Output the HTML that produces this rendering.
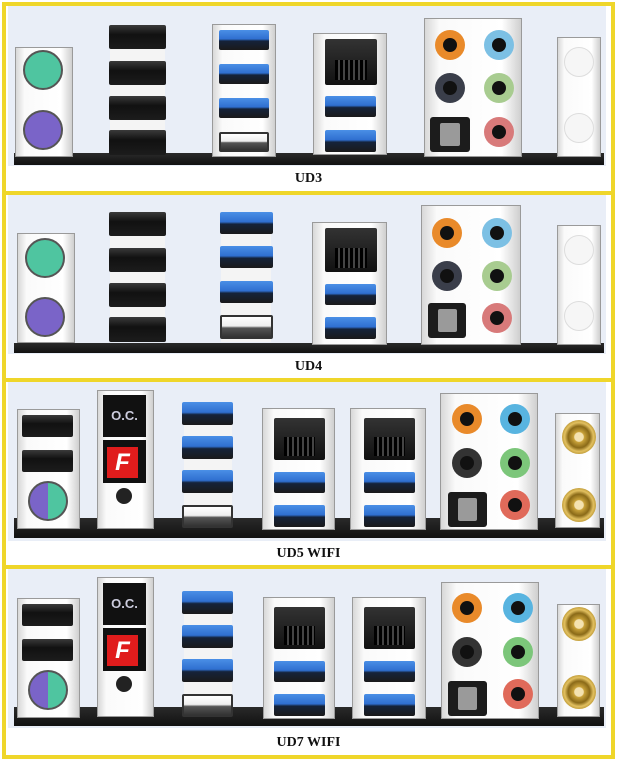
<!DOCTYPE html>
<html><head><meta charset="utf-8">
<style>
*{margin:0;padding:0;box-sizing:border-box}
body{width:617px;height:761px;background:#fff;position:relative;overflow:hidden;font-family:"Liberation Serif",serif}
.a{position:absolute}
.pnl{position:absolute;left:0;width:617px;height:192px}
.bg{position:absolute;left:8px;top:6px;width:598px;height:160px;background:#e9eef7}
.bar{position:absolute;left:14px;width:590px;background:linear-gradient(#2a2a2a,#111)}
.lbl{position:absolute;left:0;width:617px;top:171px;text-align:center;font-weight:bold;font-size:14px;color:#111}
.blk{position:absolute;background:linear-gradient(90deg,#d8d8d8,#fafafa 15%,#fff 80%,#cfcfcf);border:1px solid #9a9a9a}
.bk{position:absolute;background:linear-gradient(#3a3a3a,#111 40%,#1c1c1c);border-radius:2px}
.bl{position:absolute;background:linear-gradient(#4a8fe6,#2f6fd0 45%,#15233a 55%,#1a1a1a);border-radius:2px}
.wp{position:absolute;background:linear-gradient(#fff,#eee 45%,#555 55%,#333);border-radius:2px;border:2px solid #333}
.wh{position:absolute;background:#f4f4f4}
.j{position:absolute;border-radius:50%;width:30px;height:30px}
.j::after{content:"";position:absolute;left:8px;top:8px;width:14px;height:14px;border-radius:50%;background:#111}
.ps{position:absolute;width:40px;height:40px;border-radius:50%;border:2px solid #555}
.rj{position:absolute;background:linear-gradient(#333,#111);border-radius:2px}
.rj::after{content:"";position:absolute;left:20%;top:45%;width:60%;height:45%;background:repeating-linear-gradient(90deg,#000 0 3px,#444 3px 5px)}
.opt{position:absolute;background:#1c1c1c;border-radius:3px}
.opt::after{content:"";position:absolute;left:25%;top:18%;width:50%;height:66%;background:#9a9a9a;border-radius:2px}
.gold{position:absolute;width:34px;height:34px;border-radius:50%;background:radial-gradient(#f4e2b0 0 18%,#c9a23a 22%,#8a6a18 45%,#e2c060 60%,#a98420 80%,#e9ddb0 100%)}
.circ{position:absolute;width:30px;height:30px;border-radius:50%;background:#f6f6f6;border:1px solid #ddd}
.y{position:absolute;background:#efd62a}
</style></head><body>

<div class="pnl" style="top:0">
 <div class="bg"></div>
 <div class="bar" style="top:153px;height:12px"></div>
 <div class="blk" style="left:15px;top:47px;width:58px;height:110px"></div>
 <div class="ps" style="left:23px;top:50px;background:#4fc5a0"></div>
 <div class="ps" style="left:23px;top:110px;background:#7a64c8"></div>
 <div class="wh" style="left:110px;top:28px;width:55px;height:126px"></div>
 <div class="bk" style="left:109px;top:25px;width:57px;height:24px"></div>
 <div class="bk" style="left:109px;top:61px;width:57px;height:24px"></div>
 <div class="bk" style="left:109px;top:96px;width:57px;height:24px"></div>
 <div class="bk" style="left:109px;top:130px;width:57px;height:25px"></div>
 <div class="blk" style="left:212px;top:24px;width:64px;height:133px"></div>
 <div class="bl" style="left:219px;top:30px;width:50px;height:20px"></div>
 <div class="bl" style="left:219px;top:64px;width:50px;height:20px"></div>
 <div class="bl" style="left:219px;top:98px;width:50px;height:20px"></div>
 <div class="wp" style="left:219px;top:132px;width:50px;height:20px"></div>
 <div class="blk" style="left:313px;top:33px;width:74px;height:122px"></div>
 <div class="rj" style="left:325px;top:39px;width:52px;height:46px"></div>
 <div class="bl" style="left:325px;top:96px;width:51px;height:21px"></div>
 <div class="bl" style="left:325px;top:130px;width:51px;height:22px"></div>
 <div class="blk" style="left:424px;top:18px;width:98px;height:139px"></div>
 <div class="j" style="left:435px;top:30px;background:#e98a2a"></div>
 <div class="j" style="left:484px;top:30px;background:#7cc0e4"></div>
 <div class="j" style="left:435px;top:73px;background:#3a3e4a"></div>
 <div class="j" style="left:484px;top:73px;background:#a8cc90"></div>
 <div class="opt" style="left:430px;top:117px;width:40px;height:35px"></div>
 <div class="j" style="left:484px;top:117px;background:#d87a7a"></div>
 <div class="blk" style="left:557px;top:37px;width:44px;height:120px"></div>
 <div class="circ" style="left:564px;top:47px"></div>
 <div class="circ" style="left:564px;top:113px"></div>
 <div class="lbl">UD3</div>
</div>

<div class="pnl" style="top:188px">
 <div class="bg"></div>
 <div class="bar" style="top:155px;height:10px"></div>
 <div class="blk" style="left:17px;top:45px;width:58px;height:110px"></div>
 <div class="ps" style="left:25px;top:50px;background:#4fc5a0"></div>
 <div class="ps" style="left:25px;top:109px;background:#7a64c8"></div>
 <div class="wh" style="left:110px;top:28px;width:55px;height:126px"></div>
 <div class="bk" style="left:109px;top:24px;width:57px;height:24px"></div>
 <div class="bk" style="left:109px;top:60px;width:57px;height:24px"></div>
 <div class="bk" style="left:109px;top:95px;width:57px;height:24px"></div>
 <div class="bk" style="left:109px;top:129px;width:57px;height:25px"></div>
 <div class="wh" style="left:221px;top:28px;width:50px;height:126px"></div>
 <div class="bl" style="left:220px;top:24px;width:53px;height:22px"></div>
 <div class="bl" style="left:220px;top:58px;width:53px;height:22px"></div>
 <div class="bl" style="left:220px;top:93px;width:53px;height:22px"></div>
 <div class="wp" style="left:220px;top:127px;width:53px;height:24px"></div>
 <div class="blk" style="left:312px;top:34px;width:75px;height:123px"></div>
 <div class="rj" style="left:325px;top:40px;width:52px;height:44px"></div>
 <div class="bl" style="left:325px;top:96px;width:51px;height:21px"></div>
 <div class="bl" style="left:325px;top:129px;width:51px;height:22px"></div>
 <div class="blk" style="left:421px;top:17px;width:100px;height:140px"></div>
 <div class="j" style="left:432px;top:30px;background:#e98a2a"></div>
 <div class="j" style="left:482px;top:30px;background:#7cc0e4"></div>
 <div class="j" style="left:432px;top:73px;background:#3a3e4a"></div>
 <div class="j" style="left:482px;top:73px;background:#a8cc90"></div>
 <div class="opt" style="left:428px;top:115px;width:38px;height:35px"></div>
 <div class="j" style="left:482px;top:115px;background:#d87a7a"></div>
 <div class="blk" style="left:557px;top:37px;width:44px;height:120px"></div>
 <div class="circ" style="left:564px;top:47px"></div>
 <div class="circ" style="left:564px;top:113px"></div>
 <div class="lbl">UD4</div>
</div>

<div class="pnl" style="top:375px">
 <div class="bg"></div>
 <div class="bar" style="top:143px;height:20px"></div>
 <div class="blk" style="left:17px;top:34px;width:63px;height:120px"></div>
 <div class="bk" style="left:22px;top:40px;width:51px;height:22px"></div>
 <div class="bk" style="left:22px;top:75px;width:51px;height:22px"></div>
 <div class="ps" style="left:28px;top:106px;background:linear-gradient(90deg,#7a64c8 50%,#4fc5a0 50%)"></div>
 <div class="blk" style="left:97px;top:15px;width:57px;height:139px"></div>
 <div class="a" style="left:103px;top:20px;width:43px;height:42px;background:#111;color:#ccd;font:bold 13px 'Liberation Sans',sans-serif;text-align:center;line-height:42px">O.C.</div>
 <div class="a" style="left:103px;top:65px;width:43px;height:43px;background:#111"></div>
 <div class="a" style="left:107px;top:72px;width:31px;height:31px;background:#e01c1c;color:#fff;font:italic bold 24px 'Liberation Sans',sans-serif;text-align:center;line-height:31px">F</div>
 <div class="a" style="left:116px;top:113px;width:16px;height:16px;border-radius:50%;background:#222"></div>
 <div class="wh" style="left:184px;top:30px;width:48px;height:122px"></div>
 <div class="bl" style="left:182px;top:27px;width:51px;height:23px"></div>
 <div class="bl" style="left:182px;top:61px;width:51px;height:23px"></div>
 <div class="bl" style="left:182px;top:95px;width:51px;height:23px"></div>
 <div class="wp" style="left:182px;top:130px;width:51px;height:23px"></div>
 <div class="blk" style="left:262px;top:33px;width:73px;height:122px"></div>
 <div class="rj" style="left:274px;top:43px;width:51px;height:42px"></div>
 <div class="bl" style="left:274px;top:97px;width:51px;height:21px"></div>
 <div class="bl" style="left:274px;top:130px;width:51px;height:22px"></div>
 <div class="blk" style="left:350px;top:33px;width:76px;height:122px"></div>
 <div class="rj" style="left:364px;top:43px;width:51px;height:42px"></div>
 <div class="bl" style="left:364px;top:97px;width:51px;height:21px"></div>
 <div class="bl" style="left:364px;top:130px;width:51px;height:22px"></div>
 <div class="blk" style="left:440px;top:18px;width:98px;height:137px"></div>
 <div class="j" style="left:452px;top:29px;background:#e98a2a"></div>
 <div class="j" style="left:500px;top:29px;background:#58b4e0"></div>
 <div class="j" style="left:452px;top:73px;background:#333"></div>
 <div class="j" style="left:500px;top:73px;background:#7cc67a"></div>
 <div class="opt" style="left:448px;top:117px;width:39px;height:35px"></div>
 <div class="j" style="left:500px;top:115px;background:#e06a5a"></div>
 <div class="blk" style="left:555px;top:38px;width:45px;height:115px"></div>
 <div class="gold" style="left:562px;top:45px"></div>
 <div class="gold" style="left:562px;top:113px"></div>
 <div class="lbl">UD5 WIFI</div>
</div>

<div class="pnl" style="top:562px">
 <div class="bg"></div>
 <div class="bar" style="top:145px;height:19px"></div>
 <div class="blk" style="left:17px;top:36px;width:63px;height:120px"></div>
 <div class="bk" style="left:22px;top:42px;width:51px;height:22px"></div>
 <div class="bk" style="left:22px;top:77px;width:51px;height:22px"></div>
 <div class="ps" style="left:28px;top:108px;background:linear-gradient(90deg,#7a64c8 50%,#4fc5a0 50%)"></div>
 <div class="blk" style="left:97px;top:15px;width:57px;height:140px"></div>
 <div class="a" style="left:103px;top:21px;width:43px;height:42px;background:#111;color:#ccd;font:bold 13px 'Liberation Sans',sans-serif;text-align:center;line-height:42px">O.C.</div>
 <div class="a" style="left:103px;top:66px;width:43px;height:43px;background:#111"></div>
 <div class="a" style="left:107px;top:73px;width:31px;height:31px;background:#e01c1c;color:#fff;font:italic bold 24px 'Liberation Sans',sans-serif;text-align:center;line-height:31px">F</div>
 <div class="a" style="left:116px;top:114px;width:16px;height:16px;border-radius:50%;background:#222"></div>
 <div class="wh" style="left:184px;top:32px;width:48px;height:122px"></div>
 <div class="bl" style="left:182px;top:29px;width:51px;height:23px"></div>
 <div class="bl" style="left:182px;top:63px;width:51px;height:23px"></div>
 <div class="bl" style="left:182px;top:97px;width:51px;height:23px"></div>
 <div class="wp" style="left:182px;top:132px;width:51px;height:23px"></div>
 <div class="blk" style="left:263px;top:35px;width:72px;height:122px"></div>
 <div class="rj" style="left:274px;top:45px;width:51px;height:42px"></div>
 <div class="bl" style="left:274px;top:99px;width:51px;height:21px"></div>
 <div class="bl" style="left:274px;top:132px;width:51px;height:22px"></div>
 <div class="blk" style="left:352px;top:35px;width:74px;height:122px"></div>
 <div class="rj" style="left:364px;top:45px;width:51px;height:42px"></div>
 <div class="bl" style="left:364px;top:99px;width:51px;height:21px"></div>
 <div class="bl" style="left:364px;top:132px;width:51px;height:22px"></div>
 <div class="blk" style="left:441px;top:20px;width:98px;height:137px"></div>
 <div class="j" style="left:452px;top:31px;background:#e98a2a"></div>
 <div class="j" style="left:503px;top:31px;background:#58b4e0"></div>
 <div class="j" style="left:452px;top:75px;background:#333"></div>
 <div class="j" style="left:503px;top:75px;background:#7cc67a"></div>
 <div class="opt" style="left:448px;top:119px;width:39px;height:35px"></div>
 <div class="j" style="left:503px;top:117px;background:#e06a5a"></div>
 <div class="blk" style="left:557px;top:42px;width:43px;height:113px"></div>
 <div class="gold" style="left:562px;top:45px"></div>
 <div class="gold" style="left:562px;top:113px"></div>
 <div class="lbl" style="top:173px">UD7 WIFI</div>
</div>

<div class="y" style="left:2px;top:2px;width:613px;height:4px"></div>
<div class="y" style="left:2px;top:755px;width:613px;height:4px"></div>
<div class="y" style="left:2px;top:2px;width:4px;height:757px"></div>
<div class="y" style="left:611px;top:2px;width:4px;height:757px"></div>
<div class="y" style="left:2px;top:191px;width:613px;height:4px"></div>
<div class="y" style="left:2px;top:378px;width:613px;height:4px"></div>
<div class="y" style="left:2px;top:565px;width:613px;height:4px"></div>
</body></html>
